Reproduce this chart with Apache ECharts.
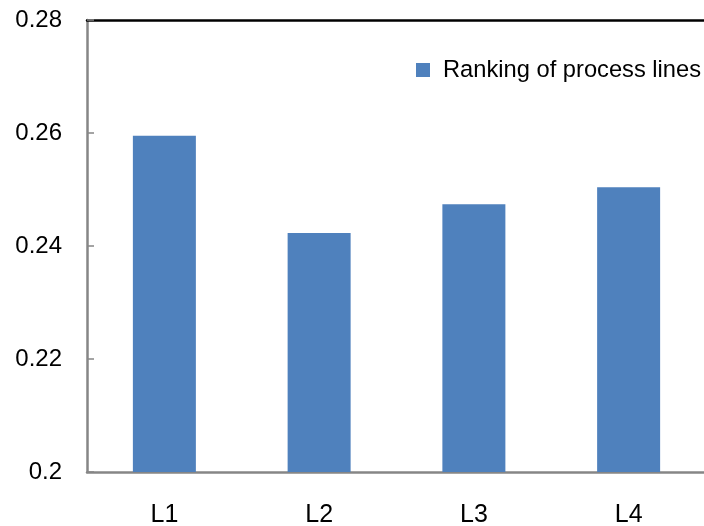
<!DOCTYPE html>
<html>
<head>
<meta charset="utf-8">
<script src="https://cdn.jsdelivr.net/npm/echarts@6/dist/echarts.min.js"></script>
<style>html,body{margin:0;padding:0;background:#fff;}#c{width:704px;height:526px;}</style>
</head>
<body>
<div id="c"></div>
<script>
var categories = ['L1', 'L2', 'L3', 'L4'];
var seriesName = 'Ranking of process lines';
var values = [0.2595, 0.2423, 0.2474, 0.2504];
var yMin = 0.2, yMax = 0.28, yStep = 0.02;

var chart = echarts.init(document.getElementById('c'), null, {renderer: 'canvas'});
chart.setOption({
  animation: false,
  backgroundColor: '#ffffff',
  grid: {left: 87, right: -2, top: 20, bottom: 54, containLabel: false, outerBoundsMode: 'none'},
  legend: {
    data: [seriesName],
    left: 416, top: 58, padding: 0,
    itemWidth: 14, itemHeight: 14,
    icon: 'rect',
    textStyle: {fontFamily: 'Liberation Sans', fontSize: 23.7, color: '#000', lineHeight: 24, padding: [0, 0, 0, 8]}
  },
  xAxis: [{
    type: 'category',
    data: categories,
    position: 'bottom',
    axisLine: {lineStyle: {color: '#868686', width: 2.5}},
    axisTick: {inside: true, length: 7, lineStyle: {color: '#868686', width: 1.5}},
    axisLabel: {fontFamily: 'Liberation Sans Narrow, Liberation Sans', fontSize: 25, color: '#000', margin: 31}
  }, {
    type: 'category',
    data: categories,
    position: 'top',
    axisLine: {lineStyle: {color: '#000', width: 2.5}},
    axisTick: {show: false},
    axisLabel: {show: false}
  }],
  yAxis: {
    type: 'value',
    min: yMin, max: yMax, interval: yStep,
    axisLine: {show: true, lineStyle: {color: '#868686', width: 2.5}},
    axisTick: {show: true, inside: true, length: 7, lineStyle: {color: '#868686', width: 1.5}},
    splitLine: {show: false},
    axisLabel: {fontFamily: 'Liberation Sans', fontSize: 24, color: '#000', margin: 25}
  },
  series: [{
    name: seriesName,
    type: 'bar',
    data: values,
    barWidth: 63,
    itemStyle: {color: '#4F81BD'}
  }]
});
</script>
</body>
</html>
